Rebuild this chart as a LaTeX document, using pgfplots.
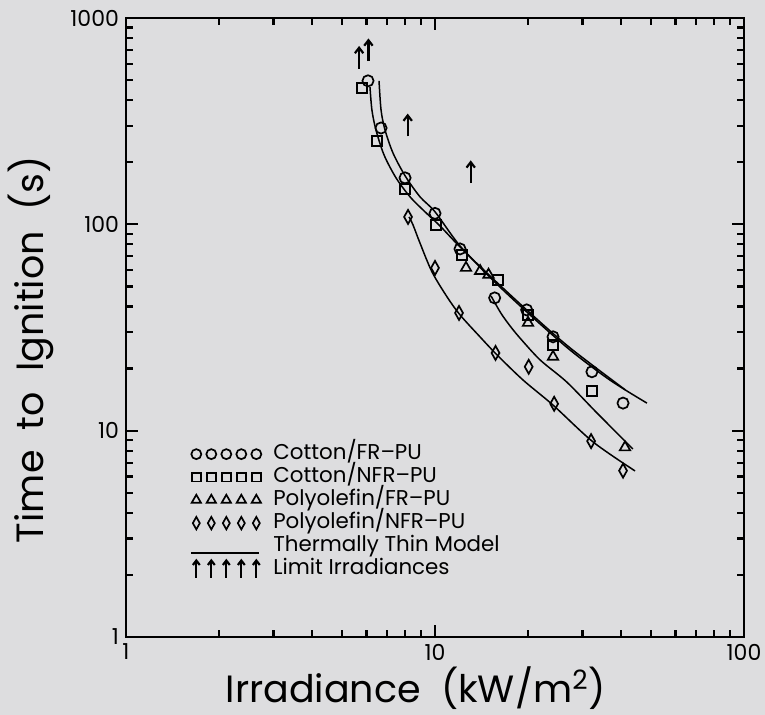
\documentclass[border=0pt]{standalone}
\usepackage{fontspec}
\setmainfont{Poppins}
\usepackage{pgfplots}
\pgfplotsset{compat=1.18}
\definecolor{bgc}{RGB}{221,221,223}

\pgfdeclareplotmark{uarrow}{%
  \pgfpathmoveto{\pgfqpoint{0pt}{-\pgfplotmarksize}}%
  \pgfpathlineto{\pgfqpoint{0pt}{\pgfplotmarksize}}%
  \pgfusepathqstroke
  \pgfpathmoveto{\pgfqpoint{-0.4\pgfplotmarksize}{0.48\pgfplotmarksize}}%
  \pgfpathlineto{\pgfqpoint{0pt}{\pgfplotmarksize}}%
  \pgfpathlineto{\pgfqpoint{0.4\pgfplotmarksize}{0.48\pgfplotmarksize}}%
  \pgfusepathqstroke
}

\begin{document}
\begin{tikzpicture}
\path[use as bounding box, fill=bgc] (-63pt,-39pt) rectangle (319.5pt,318.5pt);
\begin{axis}[
  at={(0pt,0pt)}, anchor=south west,
  scale only axis, width=309pt, height=309.5pt,
  xmode=log, ymode=log,
  xmin=1, xmax=100, ymin=1, ymax=1000,
  log ticks with fixed point,
  /pgf/number format/assume math mode=true,
  /pgf/number format/1000 sep={},
  xtick={1,10,100}, ytick={1,10,100,1000},
  minor xtick={2,3,4,5,6,7,8,9,20,30,40,50,60,70,80,90},
  minor ytick={2,3,4,5,6,7,8,9,20,30,40,50,60,70,80,90,200,300,400,500,600,700,800,900},
  tick align=inside,
  major tick length=6pt, minor tick length=3.5pt,
  axis line style={line width=1.3pt},
  every tick/.style={black, line width=1.1pt},
  tick label style={font=\fontsize{11}{12}\selectfont},
  xlabel={Irradiance\ \ (kW/m\textsuperscript{2})},
  ylabel={Time\ \ to\ \ Ignition\ \ (s)},
  every axis x label/.style={at={(axis description cs:0.469,-0.0824)}, anchor=center,
    font=\fontsize{19}{23}\selectfont},
  every axis y label/.style={at={(axis description cs:-0.154,0.464)}, anchor=center, rotate=90,
    font=\fontsize{19}{23}\selectfont},
  legend cell align=left,
  legend style={at={(axis description cs:0.1036,0.313)}, anchor=north west,
    draw=none, fill=none, inner sep=0pt, row sep=1pt, column sep=6pt,
    nodes={inner sep=0pt, text height=8pt, text depth=2.5pt,
      font=\fontsize{10.7}{12}\selectfont}},
  mark options={solid, line width=0.85pt},
]
% Cotton/FR-PU
\addplot[only marks, mark=o, mark size=2.8pt, black,
  legend image code/.code={\draw[only marks, mark repeat=1, mark size=2.5pt] plot coordinates {(0pt,0pt) (7.5pt,0pt) (15pt,0pt) (22.5pt,0pt) (30pt,0pt)};}]
  coordinates {(6.07,496) (6.69,293) (8.0,168) (10.0,113) (12.05,76) (15.6,44) (19.8,38.5) (24.1,28.5) (32.2,19.3) (40.6,13.6)};
\addlegendentry{Cotton/FR--PU}
% Cotton/NFR-PU
\addplot[only marks, mark=square, mark size=2.5pt, black,
  legend image code/.code={\draw[only marks, mark repeat=1, mark size=2.2pt] plot coordinates {(0pt,0pt) (7.5pt,0pt) (15pt,0pt) (22.5pt,0pt) (30pt,0pt)};}]
  coordinates {(5.8,458) (6.49,254) (8.0,148) (10.1,99) (12.2,71) (16.0,53.7) (20.0,36.4) (24.1,26) (32.2,15.6)};
\addlegendentry{Cotton/NFR--PU}
% Polyolefin/FR-PU
\addplot[only marks, mark=triangle, mark size=3pt, black,
  legend image code/.code={\draw[only marks, mark repeat=1, mark size=2.7pt] plot coordinates {(0pt,0pt) (7.5pt,0pt) (15pt,0pt) (22.5pt,0pt) (30pt,0pt)};}]
  coordinates {(12.6,61.5) (14.0,59.4) (14.9,57) (20.0,33.3) (24.1,22.8) (41.2,8.3)};
\addlegendentry{Polyolefin/FR--PU}
% Polyolefin/NFR-PU
\addplot[only marks, mark=diamond, mark size=3.5pt, black, mark options={xscale=0.75, line width=0.85pt},
  legend image code/.code={\draw[only marks, mark repeat=1, mark size=3.1pt] plot coordinates {(0pt,0pt) (7.5pt,0pt) (15pt,0pt) (22.5pt,0pt) (30pt,0pt)};}]
  coordinates {(8.18,108.6) (10.0,61.5) (11.96,37.2) (15.7,23.8) (20.1,20.4) (24.3,13.5) (32.0,8.9) (40.6,6.4)};
\addlegendentry{Polyolefin/NFR--PU}
% Thermally thin model curves
\addplot[black, line width=0.75pt, smooth, tension=0.5, no marks,
  legend image code/.code={\draw[line width=0.9pt] (-2.5pt,-3.5pt) -- (31.5pt,-3.5pt);}]
  coordinates {(6.59,496) (6.69,358) (6.89,287) (7.31,222) (8.0,172) (8.94,136) (10.0,115) (12.05,78.6) (15.6,52.6) (20.3,36.4) (27.35,24.6) (36.8,17.6) (48.5,13.6)};
\addlegendentry{Thermally Thin Model}
\addplot[forget plot, black, line width=0.75pt, smooth, tension=0.5, no marks]
  coordinates {(6.16,463) (6.25,358) (6.44,287) (6.84,217) (7.48,168) (8.30,136) (9.28,115) (10.38,98.2) (12.05,77.7) (15.07,56.2) (20.3,37.2) (27.35,25.2) (41.2,15.8)};
\addplot[forget plot, black, line width=0.75pt, smooth, tension=0.5, no marks]
  coordinates {(15.18,45.0) (15.76,40.7) (16.48,36.4) (17.49,32.2) (18.84,28.1) (21.9,22.0) (26.7,17.2) (33.4,12.2) (43.7,8.15)};
\addplot[forget plot, black, line width=0.75pt, smooth, tension=0.5, no marks]
  coordinates {(8.24,108.6) (8.49,99.3) (8.94,81.2) (9.78,58.8) (10.94,44.5) (12.05,36.4) (13.98,28.5) (15.87,23.3) (19.27,17.6) (24.1,13.3) (32.5,8.81) (44.4,6.38)};
% Limit irradiances
\addplot[only marks, mark=uarrow, mark size=5.25pt, black, mark options={line width=1.1pt},
  legend image code/.code={\draw[only marks, mark repeat=1, mark size=4.3pt] plot coordinates {(0pt,0pt) (7.5pt,0pt) (15pt,0pt) (22.5pt,0pt) (30pt,0pt)};}]
  coordinates {(5.68,638) (6.09,694) (8.16,300) (13.05,178)};
\addlegendentry{Limit Irradiances}
\end{axis}
\end{tikzpicture}
\end{document}
